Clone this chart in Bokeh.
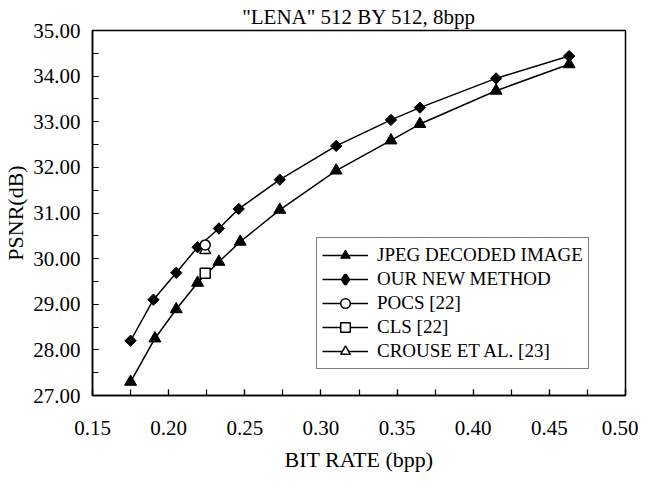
import math
from bokeh.plotting import figure
from bokeh.models import Range1d, NumeralTickFormatter, SingleIntervalTicker, Legend, LegendItem
from bokeh.embed import file_html
from bokeh.resources import INLINE

# ---- data ----
jpeg_x = [0.175, 0.191, 0.205, 0.219, 0.233, 0.247, 0.273, 0.310, 0.346, 0.365, 0.415, 0.463]
jpeg_y = [27.30, 28.25, 28.89, 29.47, 29.93, 30.37, 31.07, 31.93, 32.59, 32.95, 33.68, 34.26]
ours_x = [0.175, 0.190, 0.205, 0.219, 0.233, 0.246, 0.273, 0.310, 0.346, 0.365, 0.415, 0.463]
ours_y = [28.20, 29.10, 29.69, 30.25, 30.66, 31.09, 31.73, 32.47, 33.04, 33.31, 33.95, 34.44]
pocs_x, pocs_y = [0.224], [30.30]
cls_x, cls_y = [0.224], [29.68]
crouse_x, crouse_y = [0.224], [30.18]

labels = ["JPEG DECODED IMAGE", "OUR NEW METHOD", "POCS [22]", "CLS [22]", "CROUSE ET AL. [23]"]
title_text = '"LENA" 512 BY 512, 8bpp'

FONT = "'Liberation Serif', 'Times New Roman', serif"

p = figure(width=638, height=477, output_backend="svg", toolbar_location=None,
           x_range=Range1d(0.15, 0.50), y_range=Range1d(27.0, 35.0),
           min_border_left=85, min_border_right=13, min_border_top=29, min_border_bottom=82,
           background_fill_color="white", border_fill_color="white")

p.title.text = title_text
p.title.align = "center"
p.title.text_font = FONT
p.title.text_font_size = "21px"
p.title.text_font_style = "normal"
p.title.text_color = "black"
p.title.standoff = 4

p.grid.visible = False
p.outline_line_color = "black"
p.outline_line_width = 1.5

p.xaxis.ticker = SingleIntervalTicker(interval=0.05, num_minor_ticks=2)
p.yaxis.ticker = SingleIntervalTicker(interval=1.0, num_minor_ticks=2)
p.xaxis.formatter = NumeralTickFormatter(format="0.00")
p.yaxis.formatter = NumeralTickFormatter(format="0.00")

for ax in (p.xaxis, p.yaxis):
    ax.axis_line_color = "black"
    ax.axis_line_width = 1.5
    ax.major_tick_in = 6
    ax.major_tick_out = 0
    ax.minor_tick_in = 6
    ax.minor_tick_out = 0
    ax.major_tick_line_color = "black"
    ax.minor_tick_line_color = "black"
    ax.major_tick_line_width = 1.2
    ax.minor_tick_line_width = 1.2
    ax.major_label_text_font = FONT
    ax.major_label_text_font_size = "21px"
    ax.major_label_text_color = "black"
    ax.axis_label_text_font = FONT
    ax.axis_label_text_font_size = "22px"
    ax.axis_label_text_font_style = "normal"
    ax.axis_label_text_color = "black"

p.xaxis.axis_label = "BIT RATE (bpp)"
p.yaxis.axis_label = "PSNR(dB)"
p.xaxis.major_label_standoff = 25
p.xaxis.axis_label_standoff = 9
p.yaxis.major_label_standoff = 12
p.yaxis.axis_label_standoff = 2

LW = 1.5
l1 = p.line(jpeg_x, jpeg_y, line_color="black", line_width=LW)
m1 = p.scatter(jpeg_x, jpeg_y, marker="triangle", size=12, fill_color="black", line_color="black")
l2 = p.line(ours_x, ours_y, line_color="black", line_width=LW)
m2 = p.scatter(ours_x, ours_y, marker="square", size=8, angle=math.pi / 4,
               fill_color="black", line_color="black")
# legend-only diamond (legend ignores marker angle); hidden on the plot
m2_leg = p.scatter(ours_x, ours_y, marker="diamond", size=12, visible=False,
                   fill_color="black", line_color="black", line_width=3)

l5 = p.line(crouse_x, crouse_y, line_color="black", line_width=LW)
m5 = p.scatter(crouse_x, crouse_y, marker="triangle", size=11, fill_color="white", line_color="black", line_width=1.5)
l4 = p.line(cls_x, cls_y, line_color="black", line_width=LW)
m4 = p.scatter(cls_x, cls_y, marker="square", size=10, fill_color="white", line_color="black", line_width=1.5)
l3 = p.line(pocs_x, pocs_y, line_color="black", line_width=LW)
m3 = p.scatter(pocs_x, pocs_y, marker="circle", size=10, fill_color="white", line_color="black", line_width=1.5)

legend = Legend(items=[
    LegendItem(label=labels[0], renderers=[l1, m1]),
    LegendItem(label=labels[1], renderers=[l2, m2_leg]),
    LegendItem(label=labels[2], renderers=[l3, m3]),
    LegendItem(label=labels[3], renderers=[l4, m4]),
    LegendItem(label=labels[4], renderers=[l5, m5]),
], location=(224, 26))
legend.click_policy = "none"
legend.border_line_color = "black"
legend.border_line_width = 1.5
legend.background_fill_color = "white"
legend.background_fill_alpha = 1.0
legend.label_text_font = FONT
legend.label_text_font_size = "19px"
legend.label_text_color = "black"
legend.glyph_width = 46
legend.glyph_height = 24
legend.label_height = 24
legend.label_standoff = 9
legend.spacing = 0
legend.padding = 5
legend.margin = 0
p.add_layout(legend, "center")

open("out.html", "w").write(file_html(p, INLINE))
